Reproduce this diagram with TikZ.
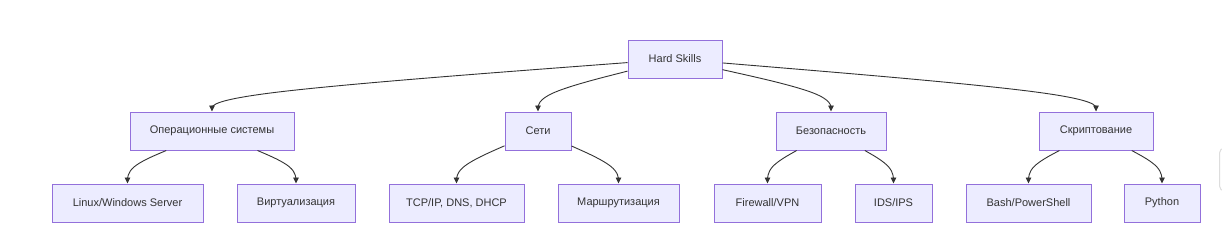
\documentclass[tikz,border=0pt]{standalone}
\usepackage{fontspec}
\setmainfont{Liberation Sans}
\usetikzlibrary{calc,arrows.meta}
\definecolor{boxfill}{HTML}{ECECFF}
\definecolor{boxline}{HTML}{9370DB}
\definecolor{ink}{HTML}{333333}
\definecolor{uiline}{HTML}{DDDDDD}
\tikzset{
  mbox/.style={draw=boxline, fill=boxfill, line width=1pt, minimum height=38pt,
    inner sep=0pt, text=ink, font=\fontsize{11}{13}\selectfont},
  edge/.style={draw=ink, line width=0.9pt, -{Triangle[length=6pt,width=5.5pt]}}
}
\newcommand\mmedge[3]{%
  \coordinate (tmpB) at #2;
  \coordinate (tmpC) at (#3.north);
  \path (#1) -- (tmpB) coordinate[pos=0] (tmpA);
  \draw[edge] (tmpA) -- ($(tmpA)!1/6!(tmpB)$)
    .. controls ($(tmpA)!1/3!(tmpB)$) and ($(tmpA)!2/3!(tmpB)$)
    .. ($1/6*(tmpA)+2/3*(tmpB)+1/6*(tmpC)$)
    .. controls ($(tmpB)!1/3!(tmpC)$) and ($(tmpB)!2/3!(tmpC)$)
    .. ($(tmpB)!5/6!(tmpC)$) -- (tmpC);
}
\begin{document}
\begin{tikzpicture}[x=1pt,y=-1pt]
\useasboundingbox[fill=white] (0,0) rectangle (1222,247);
% level 1
\node[mbox, minimum width=94pt] (hs) at (675,59) {Hard Skills};
% level 2
\node[mbox, minimum width=164pt] (os) at (212,131) {Операционные системы};
\node[mbox, minimum width=66pt] (net) at (538,131) {Сети};
\node[mbox, minimum width=110pt] (sec) at (831,131) {Безопасность};
\node[mbox, minimum width=114pt] (scr) at (1096,131) {Скриптование};
% level 3
\node[mbox, minimum width=151pt] (lin) at (127.5,203) {Linux/Windows Server};
\node[mbox, minimum width=118pt] (virt) at (296,203) {Виртуализация};
\node[mbox, minimum width=135pt] (tcp) at (456.5,203) {TCP/IP, DNS, DHCP};
\node[mbox, minimum width=121pt] (rout) at (618.5,203) {Маршрутизация};
\node[mbox, minimum width=107pt] (fw) at (767.5,203) {Firewall/VPN};
\node[mbox, minimum width=77pt] (ids) at (893.5,203) {IDS/IPS};
\node[mbox, minimum width=125pt] (bash) at (1028.5,203) {Bash/PowerShell};
\node[mbox, minimum width=76pt] (py) at (1162,203) {Python};
% edges
\mmedge{hs}{(212,94)}{os}
\mmedge{hs}{(538,94)}{net}
\mmedge{hs}{(831,94)}{sec}
\mmedge{hs}{(1096,94)}{scr}
\mmedge{os}{(127.5,167)}{lin}
\mmedge{os}{(296,167)}{virt}
\mmedge{net}{(456.5,167)}{tcp}
\mmedge{net}{(618.5,167)}{rout}
\mmedge{sec}{(767.5,167)}{fw}
\mmedge{sec}{(893.5,167)}{ids}
\mmedge{scr}{(1028.5,167)}{bash}
\mmedge{scr}{(1162,167)}{py}
% partial panel at right edge
\draw[uiline, line width=1pt, fill=white, rounded corners=5pt] (1219.5,148) rectangle (1250,191);
\end{tikzpicture}
\end{document}
